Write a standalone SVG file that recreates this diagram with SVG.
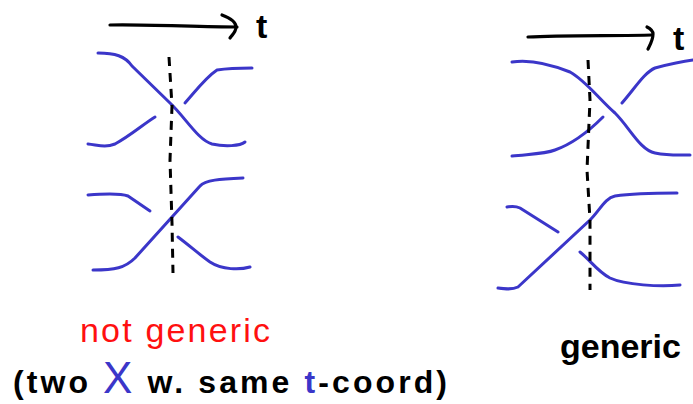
<svg xmlns="http://www.w3.org/2000/svg" width="693" height="404" viewBox="0 0 693 404">
<style>
.s{fill:none;stroke:#3b36c9;stroke-width:3;stroke-linecap:round;stroke-linejoin:round}
.k{fill:none;stroke:#000;stroke-width:3.2;stroke-linecap:round;stroke-linejoin:round}
.d{fill:none;stroke:#000;stroke-width:3;stroke-dasharray:9 7}
.t{font-family:"Liberation Sans",Arial,sans-serif;fill:#000;font-weight:bold}
</style>
<rect width="693" height="404" fill="#fff"/>
<g id="left-diagram">
  <path class="k" d="M110,25 C140,24 200,27 237,27"/>
  <path class="k" d="M222,15 C230,18 236,22 236,27 C236,32 232,35 230,38"/>
  <text class="t" x="256" y="38" font-size="34">t</text>
  <path class="s" d="M98,53 C115,53 125,56 132,66 L170,103 C185,117 198,140 212,144 C225,147 240,146 245,142"/>
  <path class="s" d="M88,144 C98,145 105,148 115,144 C130,136 145,123 155,117"/>
  <path class="s" d="M185,103 C195,92 205,78 217,70 C230,68 245,68 252,68"/>
  <path class="s" d="M93,270 C115,270 125,268 135,258 L200,186 C205,180 220,179 243,178"/>
  <path class="s" d="M88,195 C100,194 120,193 128,196 L150,211"/>
  <path class="s" d="M178,237 C190,246 200,255 210,262 C222,270 240,270 250,267"/>
  <path class="d" d="M169,57 L172,106 L170,160 L172,223 L173,273"/>
</g>
<g id="right-diagram">
  <path class="k" d="M528,37 C560,35 620,36 652,35"/>
  <path class="k" d="M647,27 C651,29 653,31 653,34 C653,40 650,45 648,49"/>
  <text class="t" x="673" y="50" font-size="34">t</text>
  <path class="s" d="M512,62 C525,60 545,62 570,72 C585,80 600,100 615,113 C630,128 640,150 655,153 C670,156 680,155 690,155"/>
  <path class="s" d="M512,156 C530,154 545,154 555,150 C575,143 590,130 603,117"/>
  <path class="s" d="M622,103 C635,88 645,72 655,68 C670,64 685,61 693,60"/>
  <path class="s" d="M498,288 C505,289 512,290 518,287 L590,220 C600,210 605,198 615,196 C635,193 660,193 677,193"/>
  <path class="s" d="M507,207 C512,206 516,206 520,208 L558,232"/>
  <path class="s" d="M580,252 C590,260 598,272 610,278 C625,285 660,287 680,285"/>
  <path class="d" d="M588,60 L590,100 L587,170 L590,220 L590,290"/>
</g>
<g id="labels">
  <text class="t" x="80" y="342" font-size="34" style="fill:#ff1010;font-weight:normal" textLength="190" lengthAdjust="spacing">not generic</text>
  <text class="t" x="13" y="393" font-size="32" textLength="434" lengthAdjust="spacing">(two <tspan style="fill:#3b36c9;font-weight:normal" font-size="44">X</tspan> w. same <tspan style="fill:#3b36c9">t</tspan>-coord)</text>
  <text class="t" x="560" y="358" font-size="34">generic</text>
</g>
</svg>
